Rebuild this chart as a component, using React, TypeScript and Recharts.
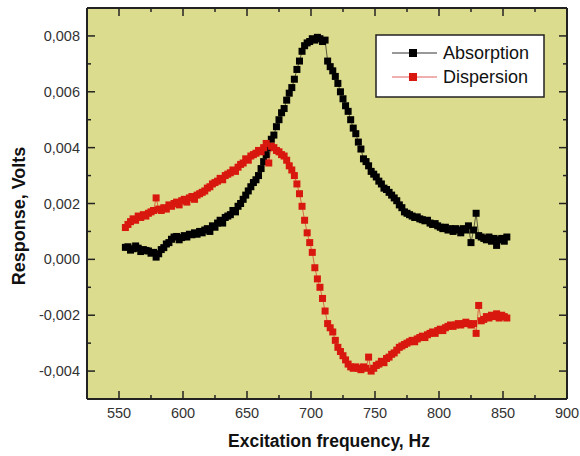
import React from 'react';
import { ComposedChart, Line, XAxis, YAxis, CartesianGrid } from 'recharts';

// excitation frequency, Hz
const FREQ = [
  555, 557, 559, 561, 563, 565, 567, 569, 571, 573,
  575, 577, 579, 581, 583, 585, 587, 589, 591, 593,
  595, 597, 599, 601, 603, 605, 607, 609, 611, 613,
  615, 617, 619, 621, 623, 625, 627, 629, 631, 633,
  635, 637, 639, 641, 643, 645, 647, 649, 651, 653,
  655, 657, 659, 661, 663, 665, 667, 669, 671, 673,
  675, 677, 679, 681, 683, 685, 687, 689, 691, 693,
  695, 697, 699, 701, 703, 705, 707, 709, 711, 713,
  715, 717, 719, 721, 723, 725, 727, 729, 731, 733,
  735, 737, 739, 741, 743, 745, 747, 749, 751, 753,
  755, 757, 759, 761, 763, 765, 767, 769, 771, 773,
  775, 777, 779, 781, 783, 785, 787, 789, 791, 793,
  795, 797, 799, 801, 803, 805, 807, 809, 811, 813,
  815, 817, 819, 821, 823, 825, 827, 829, 831, 833,
  835, 837, 839, 841, 843, 845, 847, 849, 851, 853,
];

// response in mV
const ABSORPTION = [
  0.43, 0.45, 0.33, 0.38, 0.48, 0.40, 0.28, 0.35, 0.32, 0.30,
  0.22, 0.25, 0.08, 0.20, 0.35, 0.42, 0.55, 0.60, 0.72, 0.80,
  0.82, 0.70, 0.78, 0.85, 0.80, 0.90, 0.88, 0.95, 0.90, 1.00,
  0.95, 1.05, 1.10, 1.00, 1.20, 1.15, 1.30, 1.40, 1.30, 1.50,
  1.55, 1.60, 1.75, 1.70, 1.90, 2.00, 2.15, 2.30, 2.45, 2.60,
  2.75, 2.85, 3.00, 3.25, 3.50, 3.75, 4.00, 4.30, 4.45, 4.75,
  5.00, 5.25, 5.40, 5.70, 5.95, 6.15, 6.45, 6.80, 7.10, 7.45,
  7.65, 7.75, 7.80, 7.90, 7.85, 7.95, 7.90, 7.80, 7.85, 7.10,
  6.90, 6.75, 6.55, 6.30, 6.00, 5.75, 5.50, 5.30, 5.00, 4.70,
  4.50, 4.20, 3.95, 3.60, 3.50, 3.35, 3.15, 3.05, 2.95, 2.80,
  2.70, 2.55, 2.50, 2.40, 2.30, 2.20, 2.10, 1.95, 1.85, 1.70,
  1.65, 1.60, 1.55, 1.50, 1.52, 1.45, 1.42, 1.38, 1.40, 1.30,
  1.25, 1.28, 1.20, 1.15, 1.10, 1.15, 1.05, 1.10, 1.00, 1.10,
  1.05, 0.95, 1.10, 1.05, 1.20, 0.60, 1.05, 1.65, 0.85, 0.80,
  0.75, 0.70, 0.80, 0.65, 0.75, 0.50, 0.70, 0.75, 0.65, 0.80,
];

const DISPERSION = [
  1.14, 1.25, 1.35, 1.45, 1.40, 1.55, 1.50, 1.60, 1.55, 1.65,
  1.70, 1.75, 2.20, 1.80, 1.75, 1.85, 1.80, 1.95, 1.90, 2.00,
  2.05, 1.95, 2.10, 2.15, 2.05, 2.20, 2.25, 2.15, 2.30, 2.35,
  2.40, 2.45, 2.55, 2.60, 2.70, 2.75, 2.80, 2.90, 2.85, 3.00,
  3.05, 3.10, 3.20, 3.15, 3.30, 3.40, 3.45, 3.60, 3.55, 3.70,
  3.75, 3.80, 3.90, 3.85, 4.00, 4.15, 3.45, 4.05, 4.00, 3.90,
  3.85, 3.75, 3.70, 3.55, 3.35, 3.20, 3.00, 2.70, 2.35, 1.90,
  1.40, 0.95, 0.60, 0.25, -0.30, -0.70, -1.00, -1.40, -1.85, -2.30,
  -2.45, -2.60, -2.90, -3.15, -3.30, -3.45, -3.60, -3.75, -3.85, -3.90,
  -3.85, -3.90, -3.95, -3.85, -3.90, -3.50, -4.00, -3.90, -3.80, -3.75,
  -3.65, -3.70, -3.55, -3.50, -3.40, -3.35, -3.25, -3.15, -3.10, -3.05,
  -3.00, -2.95, -2.90, -2.95, -2.85, -2.80, -2.75, -2.80, -2.70, -2.65,
  -2.60, -2.65, -2.55, -2.50, -2.55, -2.45, -2.40, -2.35, -2.40, -2.35,
  -2.30, -2.35, -2.30, -2.25, -2.30, -2.35, -2.30, -2.65, -1.65, -2.20,
  -2.15, -2.05, -2.10, -2.00, -2.05, -1.95, -2.10, -2.00, -2.05, -2.10,
];

const X_TICKS = [550, 575, 600, 625, 650, 675, 700, 725, 750, 775, 800, 825, 850, 875, 900];
const X_LABELS = [550, 600, 650, 700, 750, 800, 850, 900];
const Y_TICKS = [-4, -3, -2, -1, 0, 1, 2, 3, 4, 5, 6, 7, 8];
const Y_LABELS = [-4, -2, 0, 2, 4, 6, 8];

const FONT = '"Liberation Sans", Arial, sans-serif';
const BG = '#dcdc8e';
const FRAME = '#222';
const RED = '#d8180f';

const data = FREQ.map((f, i) => ({ f, abs: ABSORPTION[i], disp: DISPERSION[i] }));

const fmtY = (v: number) => (v / 1000).toFixed(3).replace('.', ',');

const BottomTick = (p: any) => {
  const major = X_LABELS.includes(p.payload.value);
  return (
    <g>
      <line x1={p.x} y1={p.y} x2={p.x} y2={p.y - (major ? 8 : 4)} stroke={FRAME} strokeWidth={1.5} />
      {major && (
        <text x={p.x} y={p.y + 19} textAnchor="middle" fontSize={14.5} fontFamily={FONT} fill="#333">
          {p.payload.value}
        </text>
      )}
    </g>
  );
};

const TopTick = (p: any) => {
  const major = X_LABELS.includes(p.payload.value);
  return <line x1={p.x} y1={p.y} x2={p.x} y2={p.y + (major ? 8 : 4)} stroke={FRAME} strokeWidth={1.5} />;
};

const LeftTick = (p: any) => {
  const major = Y_LABELS.includes(p.payload.value);
  return (
    <g>
      <line x1={p.x} y1={p.y} x2={p.x + (major ? 8 : 4)} y2={p.y} stroke={FRAME} strokeWidth={1.5} />
      {major && (
        <text x={p.x - 7} y={p.y + 5} textAnchor="end" fontSize={14.5} fontFamily={FONT} fill="#333">
          {fmtY(p.payload.value)}
        </text>
      )}
    </g>
  );
};

const RightTick = (p: any) => {
  const major = Y_LABELS.includes(p.payload.value);
  return <line x1={p.x} y1={p.y} x2={p.x - (major ? 8 : 4)} y2={p.y} stroke={FRAME} strokeWidth={1.5} />;
};

const squareDot = (color: string) => (p: any) => {
  if (p.cx == null || p.cy == null) return <g key={`${color}-${p.index}`} />;
  return <rect key={`${color}-${p.index}`} x={p.cx - 3.5} y={p.cy - 3.5} width={7} height={7} fill={color} />;
};

export default function App() {
  return (
    <div style={{ position: 'absolute', left: 0, top: 0, width: 580, height: 456, background: '#fff', fontFamily: FONT }}>
      <ComposedChart width={580} height={456} data={data} margin={{ top: 7, right: 12, bottom: 56, left: 86 }}>
        <CartesianGrid xAxisId="bottom" yAxisId="left" fill={BG} stroke="none" horizontal={false} vertical={false} />
        <XAxis
          xAxisId="bottom"
          dataKey="f"
          type="number"
          domain={[525, 900]}
          allowDataOverflow
          ticks={X_TICKS}
          interval={0}
          height={1}
          tickSize={0}
          tickMargin={0}
          tickLine={false}
          tick={<BottomTick />}
          axisLine={{ stroke: FRAME, strokeWidth: 2 }}
        />
        <XAxis
          xAxisId="top"
          orientation="top"
          dataKey="f"
          type="number"
          domain={[525, 900]}
          allowDataOverflow
          ticks={X_TICKS}
          interval={0}
          height={1}
          tickSize={0}
          tickMargin={0}
          tickLine={false}
          tick={<TopTick />}
          axisLine={{ stroke: FRAME, strokeWidth: 2 }}
        />
        <YAxis
          yAxisId="left"
          type="number"
          domain={[-5, 9]}
          allowDataOverflow
          ticks={Y_TICKS}
          interval={0}
          width={1}
          tickSize={0}
          tickMargin={0}
          tickLine={false}
          tick={<LeftTick />}
          axisLine={{ stroke: FRAME, strokeWidth: 2 }}
        />
        <YAxis
          yAxisId="right"
          orientation="right"
          type="number"
          domain={[-5, 9]}
          allowDataOverflow
          ticks={Y_TICKS}
          interval={0}
          width={1}
          tickSize={0}
          tickMargin={0}
          tickLine={false}
          tick={<RightTick />}
          axisLine={{ stroke: FRAME, strokeWidth: 2 }}
        />
        <Line
          xAxisId="bottom"
          yAxisId="left"
          type="linear"
          dataKey="abs"
          name="Absorption"
          stroke="#000"
          strokeWidth={0.6}
          dot={squareDot('#000')}
          activeDot={false}
          isAnimationActive={false}
        />
        <Line
          xAxisId="bottom"
          yAxisId="left"
          type="linear"
          dataKey="disp"
          name="Dispersion"
          stroke={RED}
          strokeWidth={0.6}
          dot={squareDot(RED)}
          activeDot={false}
          isAnimationActive={false}
        />
      </ComposedChart>

      {/* axis titles and legend on top of the chart */}
      <svg width={580} height={456} style={{ position: 'absolute', left: 0, top: 0, pointerEvents: 'none' }}>
        <text
          x={25}
          y={216}
          transform="rotate(-90 25 216)"
          textAnchor="middle"
          fontSize={18}
          fontWeight="bold"
          fontFamily={FONT}
          fill="#111"
        >
          Response, Volts
        </text>
        <text x={329} y={447} textAnchor="middle" fontSize={17.5} fontWeight="bold" fontFamily={FONT} fill="#111">
          Excitation frequency, Hz
        </text>

        <rect x={376} y={35} width={168} height={62} fill="#fff" stroke={FRAME} strokeWidth={1.5} />
        <line x1={392} y1={53} x2={437} y2={53} stroke="#333" strokeWidth={1} />
        <rect x={409} y={49} width={8} height={8} fill="#000" />
        <text x={443} y={59} fontSize={18} fontFamily={FONT} fill="#111">Absorption</text>
        <line x1={392} y1={77} x2={437} y2={77} stroke="#e06060" strokeWidth={1} />
        <rect x={409} y={73} width={8} height={8} fill={RED} />
        <text x={443} y={83} fontSize={18} fontFamily={FONT} fill="#111">Dispersion</text>
      </svg>
    </div>
  );
}
